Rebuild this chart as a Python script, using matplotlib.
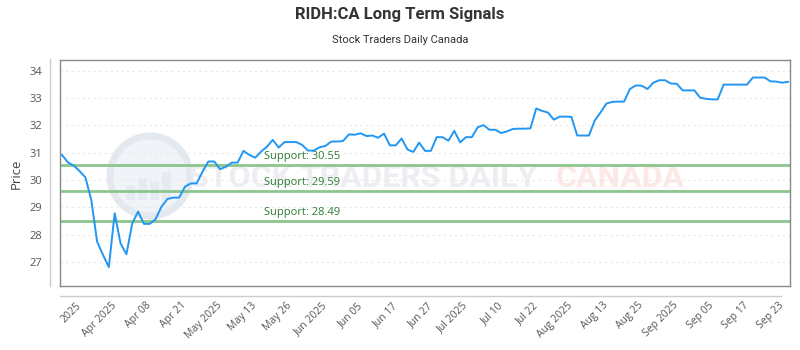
import matplotlib
matplotlib.use("Agg")
import matplotlib.pyplot as plt
from matplotlib.lines import Line2D
from matplotlib.patches import Ellipse, Rectangle
import matplotlib.transforms as mtransforms

# ---- data ----
prices = [30.92, 30.65, 30.53, 30.33, 30.10, 29.28, 27.75, 27.27, 26.82, 28.79,
          27.69, 27.29, 28.42, 28.85, 28.40, 28.40, 28.58, 29.03, 29.31, 29.36,
          29.36, 29.76, 29.88, 29.88, 30.31, 30.68, 30.68, 30.40, 30.49, 30.64,
          30.64, 31.07, 30.92, 30.82, 31.04, 31.22, 31.47, 31.19, 31.39, 31.39,
          31.39, 31.29, 31.08, 31.08, 31.20, 31.25, 31.41, 31.41, 31.43, 31.67,
          31.66, 31.71, 31.61, 31.63, 31.55, 31.70, 31.27, 31.27, 31.52, 31.12,
          31.03, 31.37, 31.07, 31.07, 31.57, 31.57, 31.44, 31.80, 31.38, 31.57,
          31.57, 31.93, 32.01, 31.84, 31.84, 31.72, 31.78, 31.87, 31.88, 31.88,
          31.89, 32.62, 32.53, 32.47, 32.21, 32.32, 32.32, 32.31, 31.63, 31.63,
          31.63, 32.18, 32.48, 32.80, 32.86, 32.87, 32.87, 33.33, 33.46, 33.45,
          33.33, 33.56, 33.65, 33.65, 33.53, 33.52, 33.28, 33.28, 33.28, 33.01,
          32.97, 32.95, 32.95, 33.49, 33.49, 33.49, 33.49, 33.49, 33.75, 33.75,
          33.75, 33.61, 33.60, 33.56, 33.59]
support_levels = [30.55, 29.59, 28.49]
support_labels = ["Support: 30.55", "Support: 29.59", "Support: 28.49"]
tick_labels = ["2025", "Apr 2025", "Apr 08", "Apr 21", "May 2025", "May 13",
               "May 26", "Jun 2025", "Jun 05", "Jun 17", "Jun 27", "Jul 2025",
               "Jul 10", "Jul 22", "Aug 2025", "Aug 13", "Aug 25", "Sep 2025",
               "Sep 05", "Sep 17", "Sep 23"]
y_ticks = [27, 28, 29, 30, 31, 32, 33, 34]
title = "RIDH:CA Long Term Signals"
subtitle = "Stock Traders Daily Canada"

# ---- figure ----
W, H = 800, 350
fig = plt.figure(figsize=(8, 3.5), dpi=100)
fig.patch.set_facecolor("white")

def fx(px):
    return px / W

def fy(py):
    return 1 - py / H

L, R, T, B = 60, 790, 60, 286
ax = fig.add_axes([fx(L), fy(B), fx(R - L), (B - T) / H])

x = list(range(len(prices)))
ax.set_xlim(-0.34, len(prices) - 1 + 0.34)
ax.set_ylim(26.13, 34.39)

# grid
ax.set_yticks(y_ticks)
ax.yaxis.grid(True, color="#e8e8e8", linestyle=(0, (2, 3)), linewidth=0.8)
ax.set_axisbelow(True)

# watermark
ax.add_patch(Ellipse((fx(150), fy(176)), 80 / W, 80 / H, transform=fig.transFigure,
                     facecolor="#f0f3f7", edgecolor="#e4e9f0", linewidth=5, zorder=0))
for bx, bh in [(126, 14), (138, 22), (150, 18), (162, 28)]:
    ax.add_patch(Rectangle((fx(bx), fy(200)), 9 / W, bh / H, transform=fig.transFigure,
                           facecolor="#e6eaf1", edgecolor="none", zorder=0))
ax.text(fx(363), fy(178), "STOCK TRADERS DAILY", transform=fig.transFigure,
        ha="center", va="center", fontsize=23, fontweight="bold",
        family="Roboto", color="#eceef2", zorder=0)
ax.text(fx(620), fy(178), "CANADA", transform=fig.transFigure,
        ha="center", va="center", fontsize=23, fontweight="bold",
        family="Roboto", color="#fde8e8", zorder=0)

# support lines
blend = mtransforms.blended_transform_factory(ax.transAxes, ax.transData)
for lvl, lab in zip(support_levels, support_labels):
    ax.axhline(lvl, color="#8cc68c", linewidth=2, zorder=1)
    ax.annotate(lab, xy=((264 - L) / (R - L), lvl), xycoords=blend,
                xytext=(0, 2.5), textcoords="offset points", ha="left", va="bottom",
                fontsize=8, color="#2e7d32", family="Open Sans", zorder=3)

# price line
ax.plot(x, prices, color="#2196f3", linewidth=1.4, zorder=4)

# frame
for s in ax.spines.values():
    s.set_color("#888888")
    s.set_linewidth(1.0)

# ticks
xt = list(range(3, len(prices), 6))[:len(tick_labels)]
ax.set_xticks(xt)
ax.set_xticklabels(tick_labels)
ax.tick_params(axis="x", length=0, pad=13, labelsize=7.5, labelcolor="#555555")
ax.tick_params(axis="y", length=0, pad=13, labelsize=8, labelcolor="#555555")
for lbl in ax.get_xticklabels():
    lbl.set_rotation(45)
    lbl.set_ha("right")
    lbl.set_va("center")
    lbl.set_rotation_mode("anchor")
    lbl.set_family("Open Sans")
for lbl in ax.get_yticklabels():
    lbl.set_family("Open Sans")

# separate axis lines
fig.add_artist(Line2D([fx(50), fx(50)], [fy(59), fy(286)], transform=fig.transFigure,
                      color="#cccccc", linewidth=1))
fig.add_artist(Line2D([fx(60), fx(781)], [fy(296), fy(296)], transform=fig.transFigure,
                      color="#cccccc", linewidth=1))

# labels / titles
fig.text(fx(16), fy(174), "Price", rotation=90, ha="center", va="center",
         fontsize=9.5, color="#444444", family="Open Sans")
fig.text(0.5, fy(15), title, ha="center", va="center", fontsize=12,
         fontweight="bold", color="#333333", family="Roboto")
fig.text(0.5, fy(40), subtitle, ha="center", va="center", fontsize=8,
         color="#333333", family="Roboto")

fig.savefig("out.png", dpi=100, facecolor="white")
